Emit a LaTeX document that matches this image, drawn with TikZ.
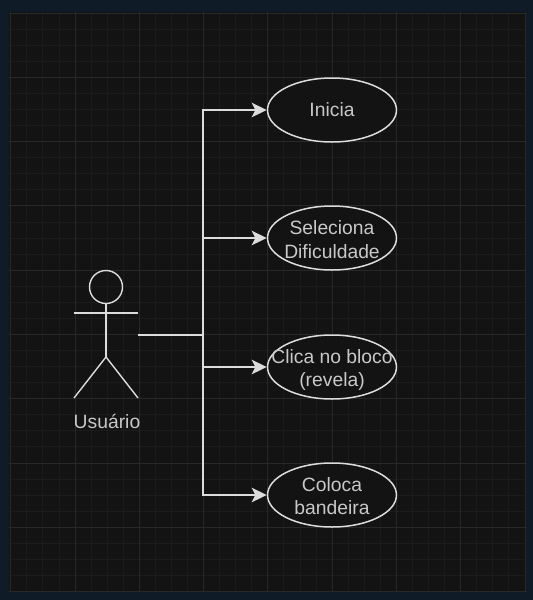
\documentclass[tikz,border=0pt]{standalone}
\usepackage{fontspec}
\setmainfont{Liberation Sans}
\usetikzlibrary{arrows.meta,shapes.geometric}
\definecolor{outerbg}{HTML}{0F1C27}
\definecolor{canvasbg}{HTML}{131313}
\definecolor{gridminor}{HTML}{1B1B1B}
\definecolor{gridmajor}{HTML}{282828}
\definecolor{ink}{HTML}{DCDCDC}
\definecolor{labelink}{HTML}{C8C8C8}
\tikzset{
  uclabel/.style={text=labelink,align=center,inner sep=0pt,font=\fontsize{19.3}{23.5}\selectfont},
  usecase/.style={shape=ellipse,draw=ink,line width=1.5pt,fill=canvasbg,minimum width=129pt,minimum height=64pt,inner sep=0pt},
  stick/.style={draw=ink,line width=1.4pt},
  wire/.style={draw=ink,line width=1.5pt},
  arrowwire/.style={wire,-{Stealth[length=15pt,width=14.5pt,inset=3.5pt]}}
}
\begin{document}
\begin{tikzpicture}[x=1pt,y=-1pt]
\useasboundingbox (0,0) rectangle (533,600);
\fill[outerbg] (0,0) rectangle (533,600);
\fill[canvasbg] (9,12) rectangle (526,592);
\foreach \i in {0,...,32}{
  \draw[gridminor,line width=0.8pt] ({10.7+16.07*\i},12) -- ({10.7+16.07*\i},592);
}
\foreach \i in {0,...,36}{
  \draw[gridminor,line width=0.8pt] (9,{13+16.07*\i}) -- (526,{13+16.07*\i});
}
\foreach \i in {0,...,8}{
  \draw[gridmajor,line width=0.9pt] ({10.7+64.3*\i},12) -- ({10.7+64.3*\i},592);
}
\foreach \i in {0,...,9}{
  \draw[gridmajor,line width=0.9pt] (9,{13+64.3*\i}) -- (526,{13+64.3*\i});
}
% use cases
\node[usecase,label={[uclabel]center:{Inicia}}] (inicia) at (332,110) {};
\node[usecase,label={[uclabel,yshift=-1.5pt]center:{Seleciona\\Dificuldade}}] (dific) at (332,238) {};
\node[usecase,label={[uclabel,yshift=-3pt]center:{Clica no bloco\\(revela)}}] (clica) at (332,367) {};
\node[usecase,label={[uclabel,yshift=-1pt]center:{Coloca\\bandeira}}] (band) at (332,495) {};
% actor
\node[circle,stick,minimum size=33pt,inner sep=0pt] (head) at (106,287) {};
\coordinate (hip) at (106,357);
\coordinate (armL) at (74,313);
\coordinate (armR) at (138,313);
\coordinate (footL) at (74,398);
\coordinate (footR) at (138,398);
\draw[stick] (head.south) -- (hip);
\draw[stick] (armL) -- (armR);
\draw[stick] (footL) -- (hip) -- (footR);
\node[uclabel] (usuario) at (107,421) {Usuário};
% connectors
\coordinate (actorport) at (138,335);
\coordinate (j) at (203,335);
\coordinate (jt) at (203,110);
\coordinate (jd) at (203,238);
\coordinate (jc) at (203,367);
\coordinate (jb) at (203,495);
\draw[wire] (actorport) -- (j);
\draw[wire,line cap=rect] (jt) -- (jb);
\draw[arrowwire] (jt) -- (inicia.west);
\draw[arrowwire] (jd) -- (dific.west);
\draw[arrowwire] (jc) -- (clica.west);
\draw[arrowwire] (jb) -- (band.west);
\end{tikzpicture}
\end{document}
